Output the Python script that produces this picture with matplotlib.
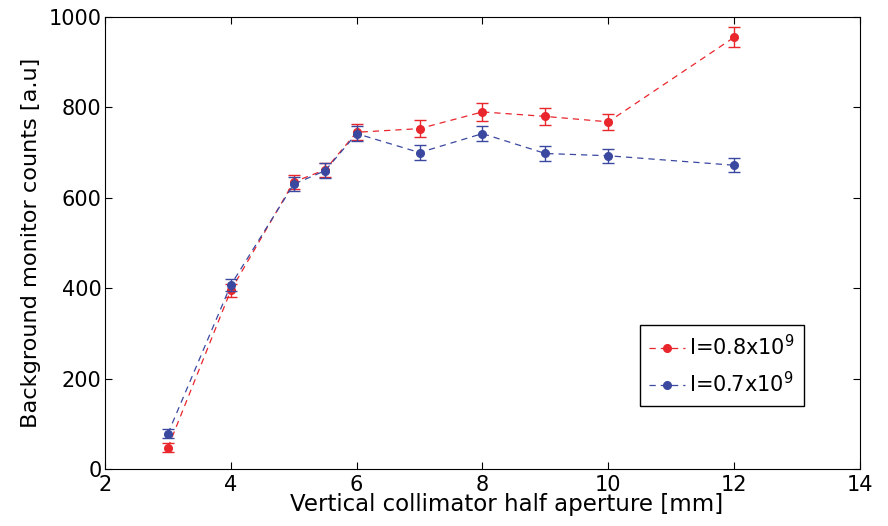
import matplotlib
matplotlib.use("Agg")
import matplotlib.pyplot as plt

plt.rcParams['font.family'] = ['DejaVu Sans']

# aperture [mm]
aperture = [3, 4, 5, 5.5, 6, 7, 8, 9, 10, 12]
# I = 0.8e9
counts_hi = [47, 395, 635, 662, 745, 753, 790, 780, 768, 955]
err_hi = [10, 14, 16, 16, 18, 18, 20, 19, 18, 22]
# I = 0.7e9
counts_lo = [78, 407, 630, 660, 742, 700, 742, 698, 693, 672]
err_lo = [10, 14, 16, 16, 17, 17, 17, 16, 15, 16]

red = "#e8262c"
blue = "#3a48a0"

fig = plt.figure(figsize=(8.88, 5.26), dpi=100)
ax = fig.add_axes([0.1182, 0.1084, 0.8502, 0.8593])

for y, e, c, lab in [(counts_hi, err_hi, red, r'I=0.8x10$^9$'),
                     (counts_lo, err_lo, blue, r'I=0.7x10$^9$')]:
    ax.errorbar(aperture, y, yerr=e, color=c, fmt='none',
                capsize=4.5, elinewidth=1.0, capthick=1.0)
    ax.plot(aperture, y, color=c, marker='o', ls='--', lw=0.9, ms=5.5,
            dashes=(5, 4), label=lab)

ax.set_xlim(2, 14)
ax.set_ylim(0, 1000)
ax.set_xticks(range(2, 15, 2))
ax.set_yticks(range(0, 1001, 200))
ax.tick_params(direction='in', top=True, right=True, labelsize=15, length=5)
ax.tick_params(axis='x', pad=4)
ax.tick_params(axis='y', pad=2.5)

ax.set_xlabel("Vertical collimator half aperture [mm]", fontsize=16.5)
ax.set_ylabel("Background monitor counts [a.u]", fontsize=16.2)
# label sits a little right of the axis centre in the original
ax.xaxis.set_label_coords(0.532, -0.092)
ax.xaxis.label.set_verticalalignment('baseline')
ax.yaxis.set_label_coords(-0.090, 0.5)
ax.yaxis.label.set_verticalalignment('baseline')

leg = ax.legend(loc='upper left', bbox_to_anchor=(0.7086, 0.3186), fontsize=15,
                fancybox=False, edgecolor='black', framealpha=1,
                handlelength=1.7, borderpad=0.45, labelspacing=0.55,
                handletextpad=0.2, borderaxespad=0, numpoints=1)
leg.get_frame().set_linewidth(1.0)

fig.savefig("out.png", dpi=100)
